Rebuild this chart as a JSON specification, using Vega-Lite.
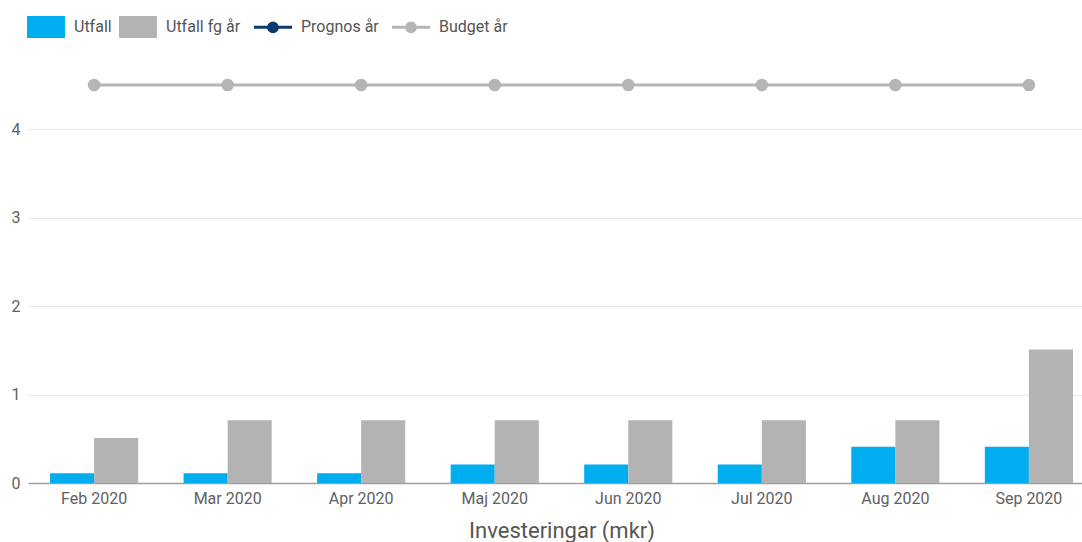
{
  "$schema": "https://vega.github.io/schema/vega-lite/v6.json",
  "width": 1054,
  "height": 398,
  "autosize": {"type": "none"},
  "padding": {"left": 28, "top": 85, "right": 0, "bottom": 59},
  "background": "white",
  "config": {
    "view": {"stroke": null},
    "font": "Roboto",
    "axis": {"labelFont": "Roboto", "titleFont": "Roboto", "labelColor": "#616161", "titleColor": "#555555", "labelFontSize": 16, "ticks": false}
  },
  "data": {
    "values": [
      {"month": "Feb 2020", "series": "Utfall", "value": 0.11},
      {"month": "Mar 2020", "series": "Utfall", "value": 0.11},
      {"month": "Apr 2020", "series": "Utfall", "value": 0.11},
      {"month": "Maj 2020", "series": "Utfall", "value": 0.21},
      {"month": "Jun 2020", "series": "Utfall", "value": 0.21},
      {"month": "Jul 2020", "series": "Utfall", "value": 0.21},
      {"month": "Aug 2020", "series": "Utfall", "value": 0.41},
      {"month": "Sep 2020", "series": "Utfall", "value": 0.41},
      {"month": "Feb 2020", "series": "Utfall fg år", "value": 0.51},
      {"month": "Mar 2020", "series": "Utfall fg år", "value": 0.71},
      {"month": "Apr 2020", "series": "Utfall fg år", "value": 0.71},
      {"month": "Maj 2020", "series": "Utfall fg år", "value": 0.71},
      {"month": "Jun 2020", "series": "Utfall fg år", "value": 0.71},
      {"month": "Jul 2020", "series": "Utfall fg år", "value": 0.71},
      {"month": "Aug 2020", "series": "Utfall fg år", "value": 0.71},
      {"month": "Sep 2020", "series": "Utfall fg år", "value": 1.51},
      {"month": "Feb 2020", "series": "Budget år", "value": 4.5},
      {"month": "Mar 2020", "series": "Budget år", "value": 4.5},
      {"month": "Apr 2020", "series": "Budget år", "value": 4.5},
      {"month": "Maj 2020", "series": "Budget år", "value": 4.5},
      {"month": "Jun 2020", "series": "Budget år", "value": 4.5},
      {"month": "Jul 2020", "series": "Budget år", "value": 4.5},
      {"month": "Aug 2020", "series": "Budget år", "value": 4.5},
      {"month": "Sep 2020", "series": "Budget år", "value": 4.5}
    ]
  },
  "encoding": {
    "x": {
      "field": "month",
      "type": "nominal",
      "sort": ["Feb 2020", "Mar 2020", "Apr 2020", "Maj 2020", "Jun 2020", "Jul 2020", "Aug 2020", "Sep 2020"],
      "scale": {"range": [0, 1067], "paddingInner": 0.34, "paddingOuter": 0.165},
      "axis": {
        "title": "Investeringar (mkr)",
        "titleFontSize": 22,
        "titleFontWeight": "normal",
        "titlePadding": 14,
        "labelAngle": 0,
        "labelPadding": 7,
        "domainColor": "#9e9e9e",
        "domainWidth": 1.5,
        "grid": false
      }
    },
    "y": {
      "field": "value",
      "type": "quantitative",
      "scale": {"domain": [0, 4.5], "nice": false},
      "axis": {
        "title": null,
        "values": [0, 1, 2, 3, 4],
        "domain": false,
        "labelPadding": 8,
        "gridColor": "#e8e8e8",
        "gridWidth": 1
      }
    },
    "color": {
      "field": "series",
      "type": "nominal",
      "scale": {
        "domain": ["Utfall", "Utfall fg år", "Prognos år", "Budget år"],
        "range": ["#00ADEF", "#B3B3B3", "#0B3A6B", "#B5B5B5"]
      },
      "legend": {
        "title": null,
        "orient": "none",
        "direction": "horizontal",
        "legendX": 2,
        "legendY": -66,
        "symbolSize": 484,
        "labelFont": "Roboto",
        "labelFontSize": 16,
        "labelColor": "#555555",
        "labelOffset": 28,
        "columnPadding": 7,
        "encode": {
          "symbols": {
            "update": {
              "shape": {"signal": "(datum.value == 'Utfall' || datum.value == 'Utfall fg år') ? 'M-1,-1H2.45V1H-1Z' : 'M-1,0H2.45M1.125,0A0.4,0.4 0 1 1 0.325,0A0.4,0.4 0 1 1 1.125,0Z'"},
              "fill": {"signal": "scale('color', datum.value)"},
              "stroke": {"signal": "scale('color', datum.value)"},
              "strokeWidth": {"signal": "(datum.value == 'Utfall' || datum.value == 'Utfall fg år') ? 0 : 3"},
              "opacity": {"value": 1}
            }
          }
        }
      }
    }
  },
  "layer": [
    {
      "transform": [{"filter": "datum.series == 'Utfall' || datum.series == 'Utfall fg år'"}],
      "mark": {"type": "bar"},
      "encoding": {
        "xOffset": {"field": "series", "type": "nominal", "sort": ["Utfall", "Utfall fg år"], "scale": {"paddingInner": 0, "paddingOuter": 0}}
      }
    },
    {
      "transform": [{"filter": "datum.series == 'Budget år' || datum.series == 'Prognos år'"}],
      "mark": {"type": "line", "strokeWidth": 3},
      "encoding": {}
    },
    {
      "transform": [{"filter": "datum.series == 'Budget år' || datum.series == 'Prognos år'"}],
      "mark": {"type": "point", "filled": true, "size": 160, "opacity": 1},
      "encoding": {}
    }
  ]
}
